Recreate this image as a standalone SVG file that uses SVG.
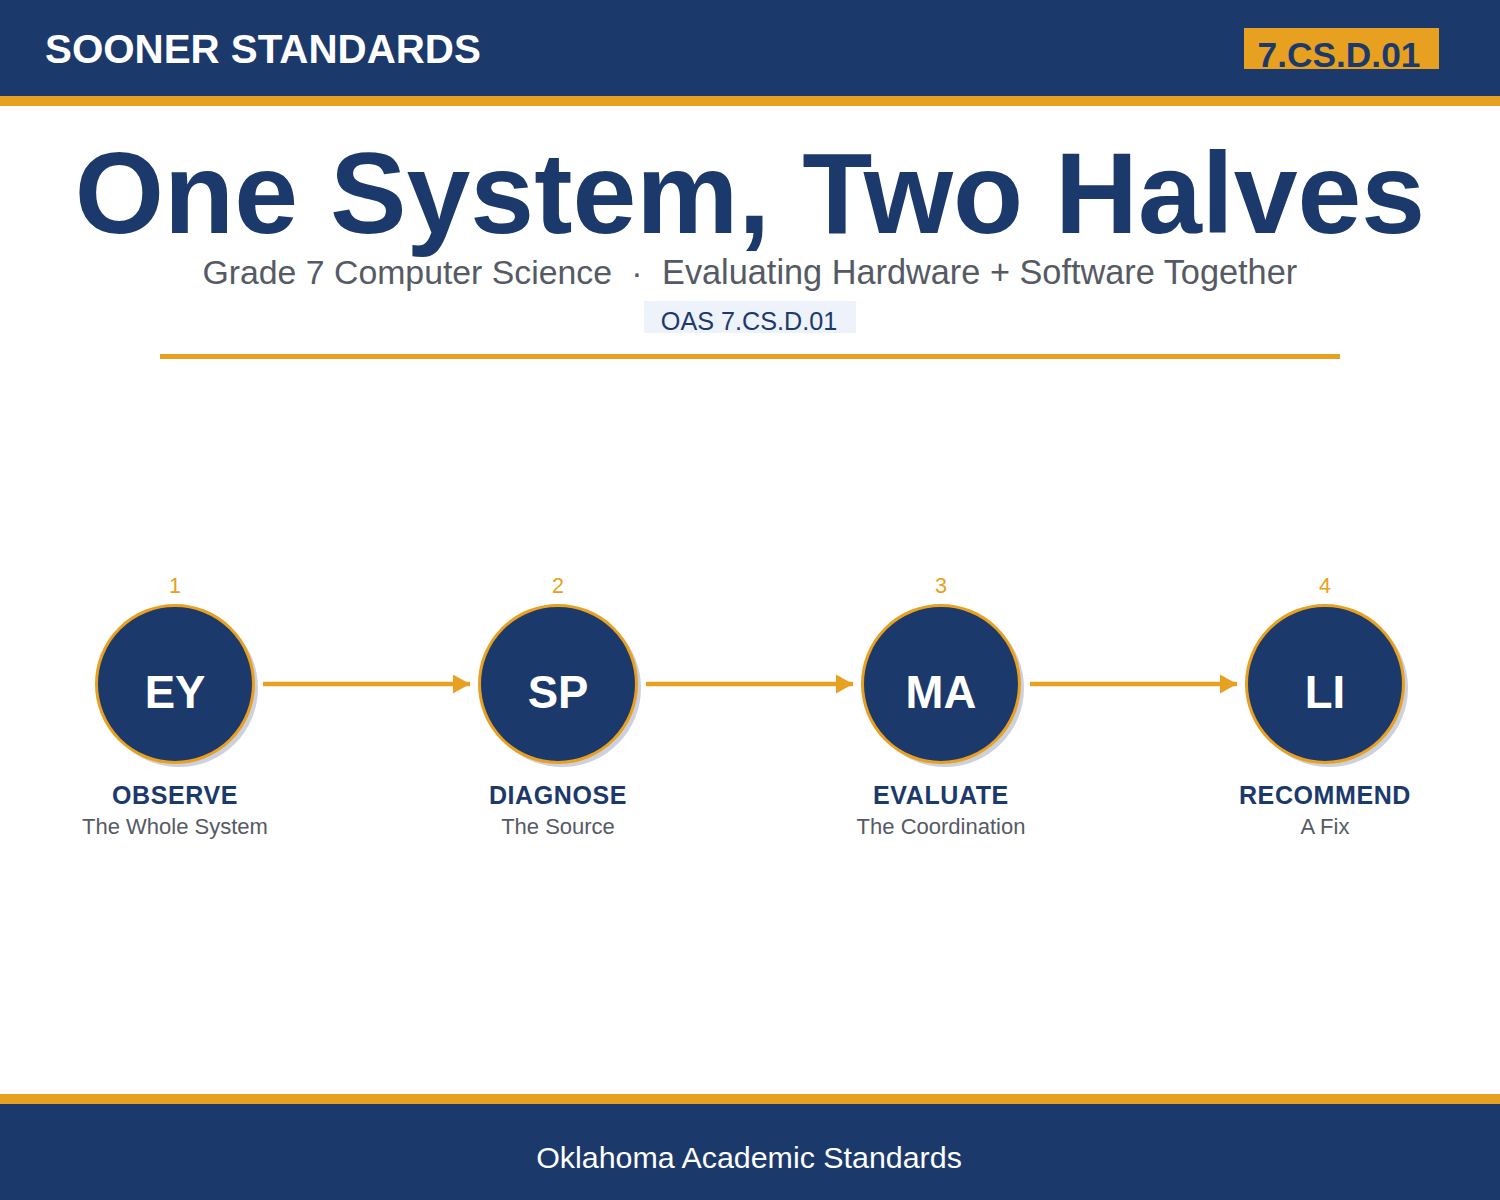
<svg xmlns="http://www.w3.org/2000/svg" width="1500" height="1200" viewBox="0 0 1500 1200">
<defs>
<style>
.f{font-family:"Liberation Sans",Arial,sans-serif}
.b{font-weight:bold}
.navy{fill:#1c396b}
.gold{fill:#e8a020}
.num{font-size:21.5px;fill:#e8a020;text-anchor:middle}
.ini{font-size:45.5px;fill:#ffffff;font-weight:bold;text-anchor:middle}
.lab{font-size:25px;fill:#1c396b;font-weight:bold;text-anchor:middle;letter-spacing:0.6px}
.sub{font-size:22px;fill:#555a64;text-anchor:middle}
.ring{fill:#1c396b;stroke:#e8a020;stroke-width:3}
.shadow{fill:#cdd1dd}
.conn{stroke:#e8a020;stroke-width:4.5;fill:none}
</style>
<marker id="ah" markerWidth="17" markerHeight="19" refX="17" refY="9.5" orient="auto" markerUnits="userSpaceOnUse">
<path d="M0,0 L17,9.5 L0,19 Z" fill="#e8a020"/>
</marker>
</defs>
<rect x="0" y="0" width="1500" height="1200" fill="#ffffff"/>
<g id="header">
<rect x="0" y="0" width="1500" height="96" class="navy"/>
<rect x="0" y="96" width="1500" height="10" class="gold"/>
<text x="45" y="63" class="f b" font-size="40.3" fill="#ffffff">SOONER STANDARDS</text>
<rect x="1244" y="28" width="195" height="41" class="gold"/>
<text x="1339" y="67" class="f b navy" font-size="35.3" text-anchor="middle">7.CS.D.01</text>
</g>
<g id="title">
<text x="750" y="233" class="f b navy" font-size="114.8" text-anchor="middle">One System, Two Halves</text>
<text x="612" y="284" class="f" font-size="33.8" fill="#555a64" text-anchor="end">Grade 7 Computer Science</text>
<text x="637" y="284" class="f" font-size="33.8" fill="#555a64" text-anchor="middle">·</text>
<text x="662" y="284" class="f" font-size="34.3" fill="#555a64">Evaluating Hardware + Software Together</text>
<rect x="644" y="301" width="212" height="32" fill="#eef2fa"/>
<text x="749" y="330" class="f navy" font-size="25.2" text-anchor="middle">OAS 7.CS.D.01</text>
<rect x="160" y="354" width="1180" height="5" class="gold"/>
</g>
<g id="connectors">
<line x1="263" y1="684" x2="470" y2="684" class="conn" marker-end="url(#ah)"/>
<line x1="646" y1="684" x2="853" y2="684" class="conn" marker-end="url(#ah)"/>
<line x1="1030" y1="684" x2="1237" y2="684" class="conn" marker-end="url(#ah)"/>
</g>
<g id="node1">
<text x="175" y="593" class="f num">1</text>
<circle cx="179" cy="688" r="79" class="shadow"/>
<circle cx="175" cy="684" r="78.5" class="ring"/>
<text x="175" y="708" class="f ini">EY</text>
<text x="175" y="804" class="f lab">OBSERVE</text>
<text x="175" y="834" class="f sub">The Whole System</text>
</g>
<g id="node2">
<text x="558" y="593" class="f num">2</text>
<circle cx="562" cy="688" r="79" class="shadow"/>
<circle cx="558" cy="684" r="78.5" class="ring"/>
<text x="558" y="708" class="f ini">SP</text>
<text x="558" y="804" class="f lab">DIAGNOSE</text>
<text x="558" y="834" class="f sub">The Source</text>
</g>
<g id="node3">
<text x="941" y="593" class="f num">3</text>
<circle cx="945" cy="688" r="79" class="shadow"/>
<circle cx="941" cy="684" r="78.5" class="ring"/>
<text x="941" y="708" class="f ini">MA</text>
<text x="941" y="804" class="f lab">EVALUATE</text>
<text x="941" y="834" class="f sub">The Coordination</text>
</g>
<g id="node4">
<text x="1325" y="593" class="f num">4</text>
<circle cx="1329" cy="688" r="79" class="shadow"/>
<circle cx="1325" cy="684" r="78.5" class="ring"/>
<text x="1325" y="708" class="f ini">LI</text>
<text x="1325" y="804" class="f lab">RECOMMEND</text>
<text x="1325" y="834" class="f sub">A Fix</text>
</g>
<g id="footer">
<rect x="0" y="1094" width="1500" height="10" class="gold"/>
<rect x="0" y="1104" width="1500" height="96" class="navy"/>
<text x="749" y="1168" class="f" font-size="30.4" fill="#ffffff" text-anchor="middle">Oklahoma Academic Standards</text>
</g>
</svg>
